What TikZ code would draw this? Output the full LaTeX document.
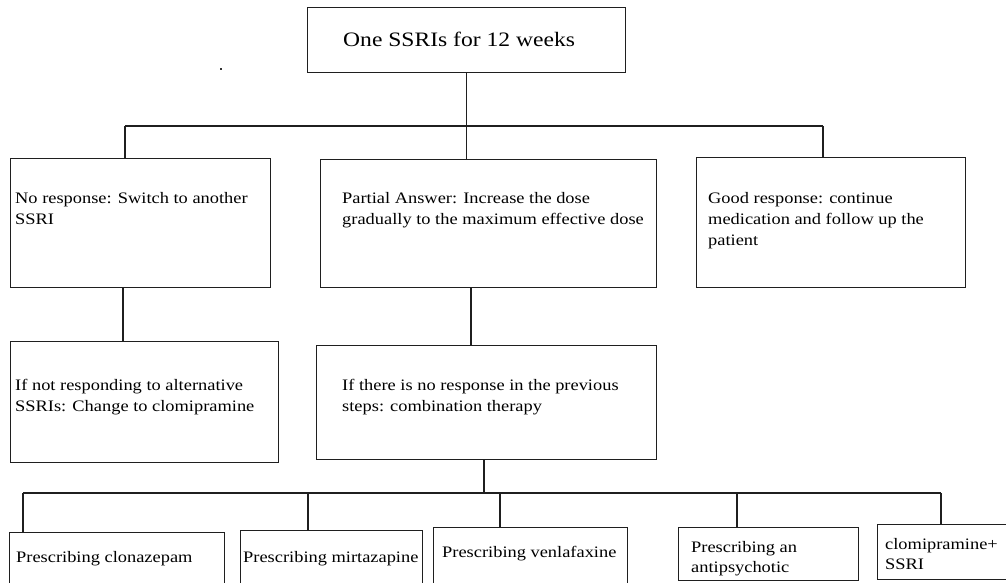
\documentclass[tikz,border=0pt]{standalone}
\usepackage{fontspec}
\usepackage{graphicx}
\setmainfont{Liberation Serif}
\newcommand\mylines[1]{\scalebox{1.15}[1]{\begin{tabular}[t]{@{}l@{}}#1\end{tabular}}}
\newcommand\mytitle[1]{\scalebox{1.15}[1]{#1}}
\begin{document}
\begin{tikzpicture}[x=1pt,y=-1pt,
  box/.style={draw=black!88,line width=1.3pt,inner sep=0pt,anchor=north west},
  txt/.style={inner sep=0pt,anchor=base west,font=\fontsize{16}{21}\selectfont,text=black},
  ttl/.style={inner sep=0pt,anchor=base west,font=\fontsize{20.5}{24}\selectfont,text=black},
  link/.style={draw=black!88,line width=1.3pt}]
\useasboundingbox (0,0) rectangle (1006,583);
\clip (0,0) rectangle (1006,583);
\fill[white] (0,0) rectangle (1006,583);
% boxes
\node[box,minimum width=318pt,minimum height=65pt] (top) at (307,7) {};
\node[box,minimum width=260pt,minimum height=129pt] (a) at (10,158) {};
\node[box,minimum width=336pt,minimum height=128pt] (b) at (320,159) {};
\node[box,minimum width=269pt,minimum height=130pt] (c) at (696,157) {};
\node[box,minimum width=268pt,minimum height=121pt] (d) at (10,341) {};
\node[box,minimum width=340pt,minimum height=114pt] (e) at (316,345) {};
\node[box,minimum width=215pt,minimum height=80pt] (f) at (9,532) {};
\node[box,minimum width=182pt,minimum height=80pt] (g) at (240,530) {};
\node[box,minimum width=194pt,minimum height=80pt] (h) at (433,527) {};
\node[box,minimum width=180pt,minimum height=53pt] (i) at (678,527) {};
\node[box,minimum width=160pt,minimum height=55pt] (j) at (877,524) {};
% texts
\node[ttl] (tt) at (343,47) {\mytitle{One SSRIs for 12 weeks}};
\node[txt] (ta) at (15,203) {\mylines{No response: Switch to another\\SSRI}};
\node[txt] (tb) at (342,203) {\mylines{Partial Answer: Increase the dose\\gradually to the maximum effective dose}};
\node[txt] (tc) at (708,203) {\mylines{Good response: continue\\medication and follow up the\\patient}};
\node[txt] (td) at (15,390) {\mylines{If not responding to alternative\\SSRIs: Change to clomipramine}};
\node[txt] (te) at (342,390) {\mylines{If there is no response in the previous\\steps: combination therapy}};
\node[txt] (tf) at (16,562) {\mylines{Prescribing clonazepam}};
\node[txt] (tg) at (243,562) {\mylines{Prescribing mirtazapine}};
\node[txt] (th) at (442,557) {\mylines{Prescribing venlafaxine}};
\node[txt,font=\fontsize{16}{20}\selectfont] (ti) at (691,552) {\mylines{Prescribing an\\antipsychotic}};
\node[txt,font=\fontsize{16}{20}\selectfont] (tj) at (885,549) {\mylines{clomipramine+\\SSRI}};
% stray dot
\fill[black!80] (220,68) rectangle (222,70);
% bus coordinates
\coordinate (bus1l) at (125,126);
\coordinate (bus1r) at (823,126);
\coordinate (bus2l) at (23,493);
\coordinate (bus2r) at (941,493);
\coordinate (dg) at (308,493);
\coordinate (dh) at (500,493);
\coordinate (di) at (737,493);
% connectors
\draw[link] (top.south) -- (top.south |- bus1l);
\draw[link] (bus1l) -- (bus1r);
\draw[link] (bus1l) -- (bus1l |- a.north);
\draw[link] (top.south |- bus1l) -- (top.south |- b.north);
\draw[link] (bus1r) -- (bus1r |- c.north);
\coordinate (ad) at (123,287);
\draw[link] (ad) -- (ad |- d.north);
\coordinate (be) at (471,287);
\draw[link] (be) -- (be |- e.north);
\coordinate (eb) at (484,459);
\draw[link] (eb) -- (eb |- bus2l);
\draw[link] (bus2l) -- (bus2r);
\draw[link] (bus2l) -- (bus2l |- f.north);
\draw[link] (dg) -- (dg |- g.north);
\draw[link] (dh) -- (dh |- h.north);
\draw[link] (di) -- (di |- i.north);
\draw[link] (bus2r) -- (bus2r |- j.north);
\end{tikzpicture}
\end{document}
